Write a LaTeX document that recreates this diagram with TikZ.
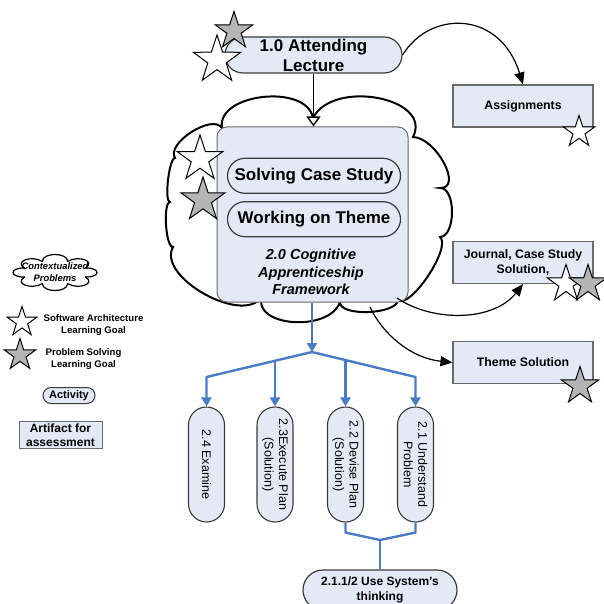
\documentclass[tikz,border=0pt]{standalone}
\usepackage{fontspec}
\setmainfont{Liberation Sans}
\usetikzlibrary{shapes.misc,shapes.symbols,shapes.geometric,arrows.meta,calc}
\definecolor{boxfill}{HTML}{E3EAF6}
\definecolor{linkblue}{HTML}{4A7CC4}
\definecolor{stargray}{HTML}{B5B5B5}
\definecolor{edge}{HTML}{3A3A3A}
\definecolor{boxedge}{HTML}{6A6A6A}
\begin{document}
\begin{tikzpicture}[x=1pt,y=-1pt,
  pill/.style={rounded rectangle, draw=edge, fill=boxfill, line width=1.2pt, inner sep=0pt, align=center, font=\bfseries\fontsize{17}{20}\selectfont},
  art/.style={rectangle, draw=boxedge, fill=boxfill, line width=1.1pt, inner sep=0pt, align=center, font=\bfseries\fontsize{12.3}{14.7}\selectfont, minimum width=140pt, minimum height=42pt},
  vpill/.style={rounded rectangle, draw=edge, fill=boxfill, line width=1.1pt, rotate=-90, minimum width=115pt, minimum height=36pt, inner sep=0pt, align=center, font=\fontsize{12.5}{14.5}\selectfont},
  wstar/.style={star, star points=5, star point ratio=2.6, draw=black, fill=white, line width=1pt, inner sep=0pt},
  gstar/.style={wstar, fill=stargray},
  conn/.style={draw=black, line width=1.2pt, -{Triangle[length=12pt,width=10pt]}},
  blueln/.style={draw=linkblue, line width=2.4pt},
  bluearr/.style={blueln, -{Triangle[length=9pt,width=10pt]}},
  legtext/.style={align=center, font=\bfseries\fontsize{9.6}{12}\selectfont, inner sep=0pt},
]
\path[use as bounding box] (0,0) rectangle (604,604);
\clip (0,0) rectangle (604,604);

% main cloud
\draw[line width=2pt, fill=white] (313,118)
 .. controls (333,78.7) and (433,97.7) .. (413,137)
 .. controls (436.3,137.7) and (463.3,188.7) .. (440,188)
 .. controls (456,187.3) and (456,236.3) .. (440,237)
 .. controls (452,247) and (410,310) .. (398,300)
 .. controls (396.7,314.7) and (338.7,316.7) .. (340,302)
 .. controls (329.3,332.7) and (251.3,326.7) .. (262,296)
 .. controls (245.3,326.4) and (156.3,277.4) .. (173,247)
 .. controls (165.7,247.7) and (162.7,202.7) .. (170,202)
 .. controls (164,202) and (169,158) .. (175,158)
 .. controls (165.7,143.3) and (212.7,113.3) .. (222,128)
 .. controls (216,93.3) and (307,83.3) .. (313,118) -- cycle;

% framework box
\node[draw=boxedge, fill=boxfill, rounded corners=10pt, line width=1pt, minimum width=191pt, minimum height=175pt, inner sep=0pt] (fw) at (312.5,214.5) {};
\node[pill, minimum width=173pt, minimum height=35pt] (solve) at (314,175.8) {Solving Case Study};
\node[pill, minimum width=173pt, minimum height=35pt] (theme) at (314,219.2) {Working on Theme};
\node[align=center, inner sep=0pt, font=\bfseries\itshape\fontsize{14.5}{17.5}\selectfont] (fwlabel) at (311,272) {2.0 Cognitive\\Apprenticeship\\Framework};

% lecture
\node[pill, minimum width=177pt, minimum height=36pt] (lecture) at (313.5,55) {1.0 Attending\\Lecture};

% artifacts
\node[art] (assign) at (523,106) {Assignments};
\node[art] (journal) at (523,262.5) {Journal, Case Study\\Solution,};
\node[art] (themesol) at (523,362.5) {Theme Solution};

% vertical activities
\node[vpill] (p24) at (206.5,464.5) {2.4 Examine};
\node[vpill] (p23) at (275,464.5) {2.3Execute Plan\\(Solution)};
\node[vpill] (p22) at (345.5,464.5) {2.2 Devise Plan\\(Solution)};
\node[vpill] (p21) at (415.5,464.5) {2.1 Understand\\Problem};
\node[pill, font=\bfseries\fontsize{12}{14.5}\selectfont, minimum width=154pt, minimum height=40pt] (sys) at (380,590) {2.1.1/2 Use System’s\\thinking};

% stars
\node[gstar, minimum size=39pt] (s1) at (234,31) {};
\node[wstar, minimum size=50pt] (s2) at (217,60) {};
\node[wstar, minimum size=48pt] (s3) at (200,159) {};
\node[gstar, minimum size=46pt] (s4) at (203,200) {};
\node[wstar, minimum size=33pt] (s5) at (579,132) {};
\node[wstar, minimum size=39pt] (s6) at (566,284) {};
\node[gstar, minimum size=39pt] (s7) at (588,284) {};
\node[gstar, minimum size=39pt] (s8) at (580,386) {};

% connectors
\draw[line width=1.4pt, -{Triangle[length=10pt,width=14pt,fill=white]}] (lecture.south) -- (lecture.south |- fw.north);
\draw[conn] (lecture.east) .. controls (430,10) and (500,10) .. (assign.north);
\coordinate (jstart) at (397,298);
\draw[conn] (jstart) .. controls (432,322) and (493,322) .. (journal.south);
\coordinate (tstart) at (370,307);
\draw[conn] (tstart) .. controls (382,333) and (410,358) .. (themesol.west);

% blue tree
\coordinate (fork) at (312,352);
\coordinate (lvl) at (0,377);
\coordinate (m23) at (275,360.8);
\coordinate (m22) at (345.5,360.1);
\draw[bluearr] (fw.south -| fork) -- (fork);
\draw[bluearr, line join=round] (fork) -- (p24.west |- lvl) -- (p24.west);
\draw[bluearr, line join=round] (fork) -- (p21.west |- lvl) -- (p21.west);
\draw[bluearr] (m23) -- (p23.west);
\draw[bluearr] (m22) -- (p22.west);
\coordinate (join) at (380,540);
\draw[blueln, line join=round] (p22.east) -- ++(0,10) -- (join);
\draw[blueln, line join=round] (p21.east) -- ++(0,10) -- (join);
\draw[blueln] (join) -- (sys.north);

% legend cloud (drawn bump by bump)
\foreach \i in {0,...,7} {
  \pgfmathsetmacro{\aa}{\i*45+22.5}
  \pgfmathsetmacro{\bb}{\aa+45}
  \pgfmathsetmacro{\mm}{\aa+22.5}
  \pgfmathsetmacro{\ax}{55+33*cos(\aa)}
  \pgfmathsetmacro{\ay}{272.5+12*sin(\aa)}
  \pgfmathsetmacro{\bx}{55+33*cos(\bb)}
  \pgfmathsetmacro{\by}{272.5+12*sin(\bb)}
  \pgfmathsetmacro{\px}{55+42*cos(\mm)}
  \pgfmathsetmacro{\py}{272.5+18*sin(\mm)}
  \pgfmathsetmacro{\dx}{4/3*(\px-(\ax+\bx)/2)}
  \pgfmathsetmacro{\dy}{4/3*(\py-(\ay+\by)/2)}
  \draw[line width=1.2pt, line cap=round] (\ax,\ay) .. controls (\ax+\dx,\ay+\dy) and (\bx+\dx,\by+\dy) .. (\bx,\by);
}
\node[align=center, inner sep=0pt, font=\bfseries\itshape\fontsize{9.4}{12}\selectfont] (lcloudtxt) at (55,272.5) {Contextualized\\Problems};
\node[wstar, minimum size=31pt] (lw) at (22,322) {};
\node[legtext] (lwtxt) at (93.5,325) {Software Architecture\\Learning Goal};
\node[gstar, minimum size=33pt] (lg) at (20,355) {};
\node[legtext] (lgtxt) at (83.5,359) {Problem Solving\\Learning Goal};
\node[rounded rectangle, draw=edge, fill=boxfill, line width=1pt, minimum width=52pt, minimum height=16pt, inner sep=0pt, font=\bfseries\fontsize{11}{13}\selectfont] (lact) at (69,395.5) {Activity};
\node[rectangle, draw=boxedge, fill=boxfill, line width=1pt, minimum width=83pt, minimum height=27pt, inner sep=0pt, align=center, font=\bfseries\fontsize{12}{14}\selectfont] (lart) at (60.5,435) {Artifact for\\assessment};
\end{tikzpicture}
\end{document}
